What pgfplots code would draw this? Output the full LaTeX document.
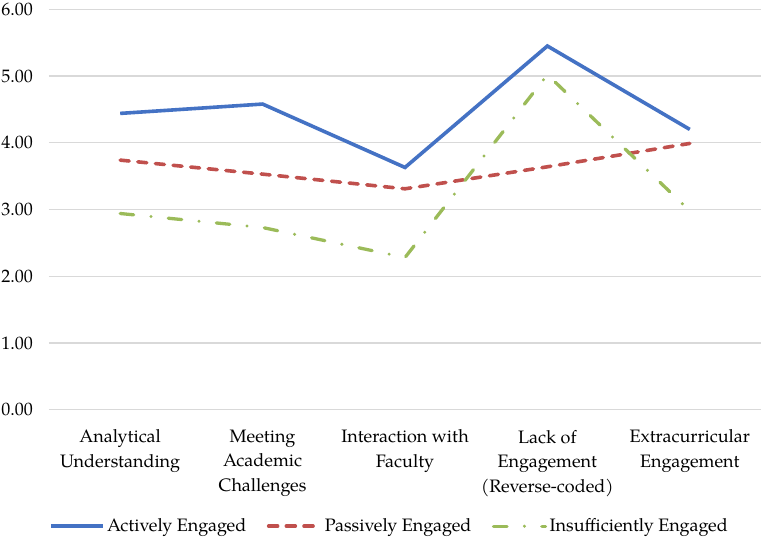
\documentclass[border=0pt]{standalone}
\usepackage{fontspec}
\setmainfont{TeX Gyre Pagella}
\usepackage{pgfplots}
\pgfplotsset{compat=1.18}
\definecolor{cblue}{HTML}{4472C4}
\definecolor{cred}{HTML}{C0504D}
\definecolor{cgreen}{HTML}{9BBB59}
\definecolor{cgrid}{HTML}{D9D9D9}
\begin{document}
\fontsize{18bp}{24.5bp}\selectfont
\begin{tikzpicture}
\begin{axis}[
  scale only axis, width=712bp, height=400.4bp,
  xmin=-0.5, xmax=4.5, ymin=0, ymax=6,
  xtick={0,1,2,3,4},
  xticklabels={{Analytical\\Understanding},{Meeting\\Academic\\Challenges},{Interaction with\\Faculty},{Lack of\\Engagement\\(Reverse-coded)},{Extracurricular\\Engagement}},
  xticklabel style={align=center, anchor=north, inner sep=0pt, yshift=-20bp, font=\fontsize{18bp}{24.5bp}\selectfont},
  ytick={0,1,2,3,4,5,6},
  yticklabel style={anchor=east, inner sep=0pt, xshift=-16bp, /pgf/number format/.cd, fixed, fixed zerofill, precision=2, assume math mode=true},
  ymajorgrids, grid style={cgrid, line width=1.2bp},
  axis line style={draw=none}, major tick length=0pt,
  legend columns=3,
  legend cell align=left,
  legend style={draw=none, fill=none, at={(axis description cs:0,0)}, anchor=west, yshift=-116.5bp, xshift=0bp, inner sep=0pt, outer sep=0pt, nodes={inner sep=2.5bp}, /tikz/every even column/.append style={column sep=18bp}},
  legend image code/.code={\draw[#1] (0bp,0bp) -- (52bp,0bp);},
]
\addplot[cblue, line width=3.6bp] coordinates {(0,4.44) (1,4.58) (2,3.63) (3,5.45) (4,4.20)};
\addlegendentry{Actively Engaged}
\addplot[cred, line width=3.6bp, line cap=round, dash pattern=on 9bp off 8.7bp] coordinates {(0,3.74) (1,3.53) (2,3.31) (3,3.64) (4,3.99)};
\addlegendentry{Passively Engaged}
\addplot[cgreen, line width=3.3bp, line cap=round, dash pattern=on 13.5bp off 17.4bp on 0bp off 17.4bp] coordinates {(0,2.94) (1,2.73) (2,2.28) (3,5.02) (4,2.98)};
\addlegendentry{Insufficiently Engaged}
\end{axis}
\pgfresetboundingbox
\path[use as bounding box] ([shift={(-49bp,-130.3bp)}]current axis.south west) rectangle ([shift={(4bp,9.3bp)}]current axis.north east);
\end{tikzpicture}
\end{document}
